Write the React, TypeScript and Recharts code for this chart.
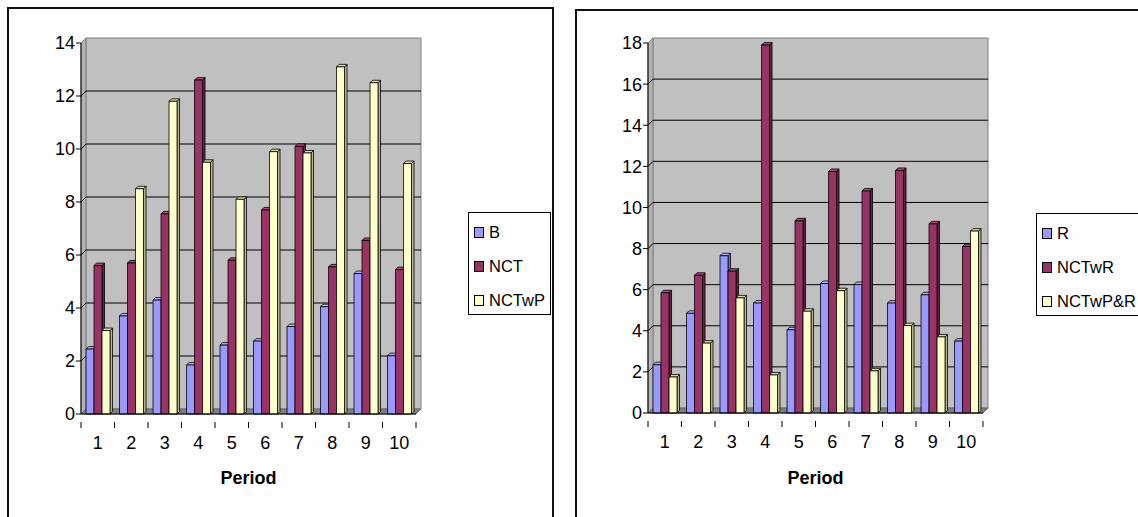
import React from 'react'
import { BarChart, Bar, XAxis, YAxis, ReferenceArea, ReferenceLine } from 'recharts'

const periods = ['1', '2', '3', '4', '5', '6', '7', '8', '9', '10']

// left panel
const bValues = [2.45, 3.7, 4.3, 1.85, 2.6, 2.75, 3.3, 4.05, 5.3, 2.2]
const nctValues = [5.6, 5.7, 7.55, 12.6, 5.8, 7.7, 10.1, 5.55, 6.55, 5.45]
const nctwpValues = [3.15, 8.5, 11.8, 9.5, 8.1, 9.9, 9.85, 13.1, 12.5, 9.45]
const leftTicks = [0, 2, 4, 6, 8, 10, 12, 14]

// right panel
const rValues = [2.35, 4.85, 7.65, 5.35, 4.05, 6.3, 6.25, 5.35, 5.75, 3.5]
const nctwrValues = [5.85, 6.7, 6.9, 17.9, 9.35, 11.75, 10.8, 11.8, 9.2, 8.1]
const nctwprValues = [1.75, 3.4, 5.6, 1.85, 4.95, 5.95, 2.05, 4.25, 3.7, 8.85]
const rightTicks = [0, 2, 4, 6, 8, 10, 12, 14, 16, 18]

const FONT = '"Liberation Sans", Arial, sans-serif'
const DEPTH = 5

const palette = [
    { front: '#9999FF', top: '#b4b4ff', side: '#6e6ed0' },
    { front: '#993366', top: '#b04a7c', side: '#6a2045' },
    { front: '#FFFFCC', top: '#dcdcaa', side: '#b8b890' },
]

function makeBar3D(shade: { front: string; top: string; side: string }) {
    return (props: any) => {
        const { x, y, width: w, height: h } = props
        if (h == null || h <= 0) return null
        const d = 2.5
        return (
            <g stroke="#000" strokeWidth={0.8} strokeLinejoin="round">
                <polygon
                    points={`${x + w},${y} ${x + w + d},${y - d} ${x + w + d},${y + h - d} ${x + w},${y + h}`}
                    fill={shade.side}
                />
                <polygon points={`${x},${y} ${x + d},${y - d} ${x + w + d},${y - d} ${x + w},${y}`} fill={shade.top} />
                <rect x={x} y={y} width={w} height={h} fill={shade.front} />
            </g>
        )
    }
}
const barShapes = palette.map(makeBar3D)

// back wall, side wall and floor, drawn from the plot area box
const Walls = (props: any) => {
    const { x, y, width: w, height: h } = props
    const d = DEPTH
    return (
        <g>
            <rect x={x + d} y={y - d} width={w} height={h} fill="#c0c0c0" stroke="#808080" strokeWidth={1} />
            <polygon
                points={`${x},${y} ${x + d},${y - d} ${x + d},${y + h - d} ${x},${y + h}`}
                fill="#b2b2b2"
                stroke="#808080"
                strokeWidth={1}
            />
            <polygon
                points={`${x},${y + h} ${x + d},${y + h - d} ${x + w + d},${y + h - d} ${x + w},${y + h}`}
                fill="#7f7f7f"
                stroke="#606060"
                strokeWidth={0.8}
            />
        </g>
    )
}

const GridLine3D = (props: any) => {
    const { x1, y1, x2 } = props
    if (x1 == null || y1 == null) return null
    const d = DEPTH
    return (
        <polyline
            points={`${x1},${y1} ${x1 + d},${y1 - d} ${x2 + d},${y1 - d}`}
            fill="none"
            stroke="#000"
            strokeWidth={1}
        />
    )
}

const XTick = (props: any) => {
    const { x, y, payload, index, visibleTicksCount } = props
    const half = payload?.offset ?? 16.75
    const last = index === (visibleTicksCount ?? 10) - 1
    return (
        <g>
            <line x1={x - half} y1={y} x2={x - half} y2={y + 6} stroke="#000" />
            {last && <line x1={x + half} y1={y} x2={x + half} y2={y + 6} stroke="#000" />}
            <text x={x} y={y + 27} textAnchor="middle" fontSize={18} fontFamily={FONT} fill="#000">
                {payload.value}
            </text>
        </g>
    )
}

interface SeriesDef {
    name: string
    values: number[]
}

interface PanelProps {
    series: SeriesDef[]
    ticks: number[]
    yWidth: number
    chartWidth: number
    rightGap: number
    xHeight: number
}

function Panel({ series, ticks, yWidth, chartWidth, rightGap, xHeight }: PanelProps) {
    const data = periods.map((p, i) => {
        const row: Record<string, any> = { period: p }
        series.forEach((s) => (row[s.name] = s.values[i]))
        return row
    })
    const max = ticks[ticks.length - 1]
    return (
        <BarChart
            width={chartWidth}
            height={517}
            data={data}
            margin={{ top: 43, right: rightGap, left: 0, bottom: 0 }}
            barCategoryGap="15%"
            barGap={0}
        >
            <ReferenceArea y1={0} y2={max} shape={<Walls />} ifOverflow="visible" zIndex={-90} />
            {ticks
                .filter((t) => t > 0 && t < max)
                .map((t) => (
                    <ReferenceLine key={t} y={t} shape={<GridLine3D />} ifOverflow="visible" zIndex={-80} />
                ))}
            <XAxis
                dataKey="period"
                height={xHeight}
                axisLine={{ stroke: '#000' }}
                tickLine={false}
                tick={<XTick />}
                interval={0}
                label={{
                    value: 'Period',
                    position: 'insideBottom',
                    offset: 33,
                    fontSize: 18,
                    fontWeight: 'bold',
                    fontFamily: FONT,
                    fill: '#000',
                }}
            />
            <YAxis
                width={yWidth}
                domain={[0, max]}
                ticks={ticks}
                interval={0}
                axisLine={{ stroke: '#000' }}
                tickLine={{ stroke: '#000' }}
                tickSize={5}
                tickMargin={1}
                tick={{ fontSize: 18, fontFamily: FONT, fill: '#000' }}
            />
            {series.map((s, i) => (
                <Bar key={s.name} dataKey={s.name} shape={barShapes[i]} isAnimationActive={false} />
            ))}
        </BarChart>
    )
}

function LegendBox({ names, left, top, width }: { names: string[]; left: number; top: number; width: number }) {
    return (
        <div
            style={{
                position: 'absolute',
                left,
                top,
                width,
                height: 103,
                border: '1px solid #000',
                background: '#fff',
                fontFamily: FONT,
                fontSize: 16.5,
                boxSizing: 'border-box',
            }}
        >
            {names.map((n, i) => (
                <div
                    key={n}
                    style={{ position: 'absolute', left: 5, top: 9 + i * 34, height: 20, display: 'flex', alignItems: 'center' }}
                >
                    <span
                        style={{
                            display: 'inline-block',
                            width: 8,
                            height: 9,
                            border: '1px solid #000',
                            background: palette[i].front,
                            marginRight: 5,
                        }}
                    />
                    <span>{n}</span>
                </div>
            ))}
        </div>
    )
}

export default function App() {
    const leftSeries = [
        { name: 'B', values: bValues },
        { name: 'NCT', values: nctValues },
        { name: 'NCTwP', values: nctwpValues },
    ]
    const rightSeries = [
        { name: 'R', values: rValues },
        { name: 'NCTwR', values: nctwrValues },
        { name: 'NCTwP&R', values: nctwprValues },
    ]
    return (
        <div style={{ position: 'absolute', left: 0, top: 0, width: 1138, height: 517, overflow: 'hidden', background: '#fff' }}>
            <div
                style={{
                    position: 'absolute',
                    left: 7,
                    top: 7,
                    width: 547,
                    height: 530,
                    border: '2px solid #111',
                    boxSizing: 'border-box',
                }}
            />
            <div
                style={{
                    position: 'absolute',
                    left: 575,
                    top: 9,
                    width: 600,
                    height: 530,
                    border: '2px solid #111',
                    boxSizing: 'border-box',
                }}
            />
            <div style={{ position: 'absolute', left: 0, top: 0 }}>
                <Panel series={leftSeries} ticks={leftTicks} yWidth={81} chartWidth={430} rightGap={14} xHeight={103} />
            </div>
            <div style={{ position: 'absolute', left: 575, top: 0 }}>
                <Panel series={rightSeries} ticks={rightTicks} yWidth={73} chartWidth={420} rightGap={12} xHeight={104} />
            </div>
            <LegendBox names={leftSeries.map((s) => s.name)} left={468} top={212} width={83} />
            <LegendBox names={rightSeries.map((s) => s.name)} left={1036} top={213} width={110} />
        </div>
    )
}
